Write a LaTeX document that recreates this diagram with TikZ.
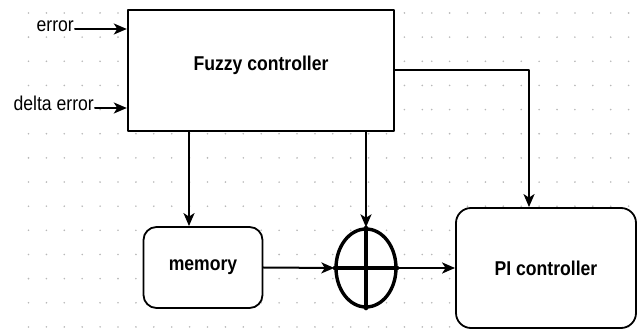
\documentclass[tikz,border=0pt]{standalone}
\usepackage{fontspec}
\setmainfont[FakeStretch=0.88]{Liberation Sans}
\usetikzlibrary{arrows.meta,positioning,shapes.geometric}
\tikzset{
  every picture/.append style={line cap=round,line join=round},
  ctl box/.style={draw,fill=white,line width=2.4pt,minimum width=266pt,minimum height=121pt,font=\fontsize{20}{23}\selectfont\bfseries},
  ctl round/.style={draw,fill=white,line width=1.8pt,rounded corners=13pt,font=\fontsize{20}{23}\selectfont\bfseries},
  ctl sum/.style={ellipse,draw,fill=white,line width=3.4pt,minimum width=60pt,minimum height=78pt,inner sep=0pt},
  ctl arrow/.style={line width=2pt,-{Stealth[length=13pt,width=11pt,inset=3.5pt]}},
  ctl label/.style={font=\fontsize{20}{23}\selectfont,inner sep=1pt,text height=1ex,text depth=0pt},
  ctl dot/.style={black!28}
}

\begin{document}
\begin{tikzpicture}[x=1pt,y=-1pt]
  \useasboundingbox (0,0) rectangle (638,331);
  % dotted grid of the sheet
  \foreach \r in {0,...,13} {
    \foreach \c in {0,...,22} \fill[ctl dot] (28.5+17.9*\c,13+24.15*\r) circle (0.9pt);
    \foreach \c in {0,...,11} \fill[ctl dot] (431.7+17.9*\c,13+24.15*\r) circle (0.9pt);
  }
  % blocks
  \node[ctl box,text height=0pt,text depth=0pt] (fuzzy) at (261,70.5) {Fuzzy controller};
  \node[ctl round,minimum width=119pt,minimum height=81pt] (memory) at (203,267.5) {memory};
  \node[ctl sum] (sum) at (366,268) {};
  \draw[line width=3.2pt] (sum.north) -- (sum.south) (sum.west) -- (sum.east);
  \node[ctl round,minimum width=180pt,minimum height=120pt,rounded corners=15pt] (pi) at (546,268) {PI controller};
  % inputs
  \node[ctl label,anchor=east] (err) at (75,29) {error};
  \node[ctl label,anchor=east] (derr) at (95,108) {delta error};
  % connectors
  \draw[ctl arrow] (err.east) -- (err.east -| fuzzy.west);
  \draw[ctl arrow] (derr.east) -- (derr.east -| fuzzy.west);
  \draw[ctl arrow] ([xshift=-72pt]fuzzy.south) -- ([xshift=-14pt]memory.north);
  \draw[ctl arrow] (fuzzy.south -| sum.north) -- (sum.north);
  \draw[ctl arrow] (fuzzy.east) -| ([xshift=-17pt]pi.north);
  \draw[ctl arrow] (memory.east) -- (sum.west);
  \draw[ctl arrow] (sum.east) -- (pi.west);
\end{tikzpicture}
\end{document}
